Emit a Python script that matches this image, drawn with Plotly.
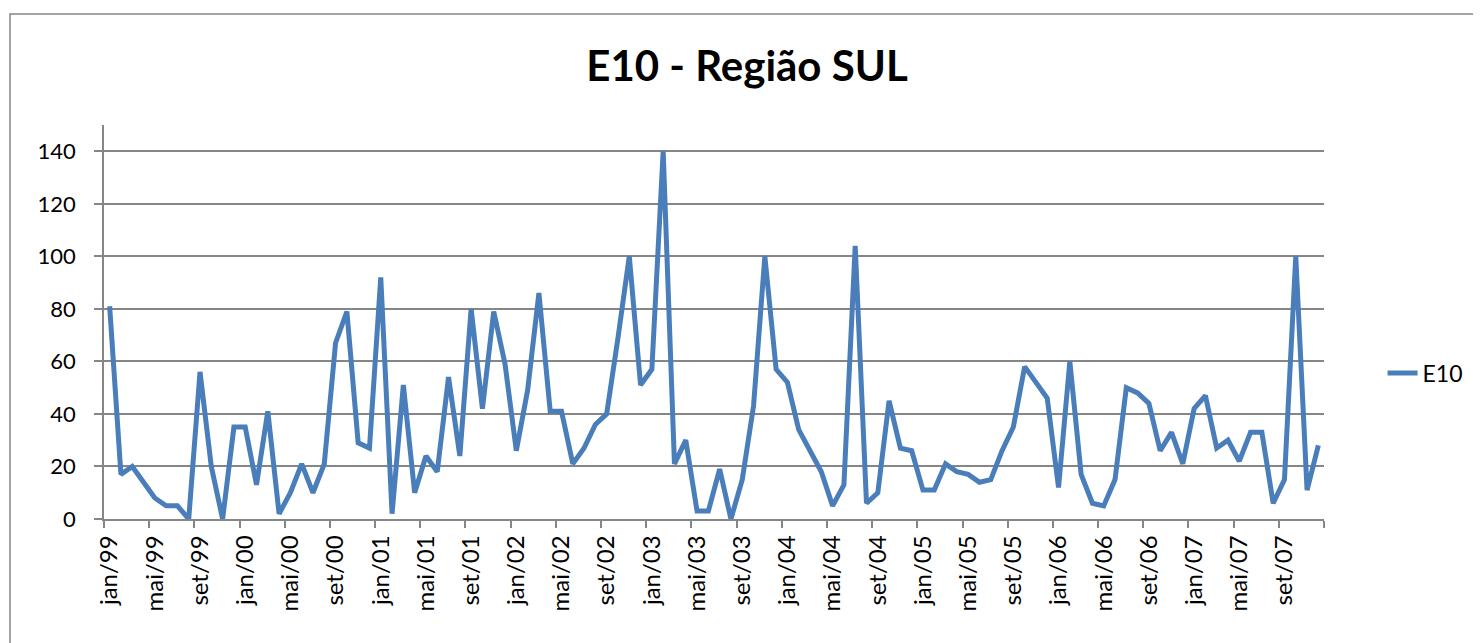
import plotly.graph_objects as go

# ---- data ----
month_names = ["jan", "fev", "mar", "abr", "mai", "jun", "jul", "ago", "set", "out", "nov", "dez"]
years = ["99", "00", "01", "02", "03", "04", "05", "06", "07"]
categories = [f"{m}/{y}" for y in years for m in month_names]

e10 = [81, 17, 20, 14, 8, 5, 5, 0, 56, 20, 0, 35,
       35, 13, 41, 2, 10, 21, 10, 21, 67, 79, 29, 27,
       92, 2, 51, 10, 24, 18, 54, 24, 80, 42, 79, 59,
       26, 49, 86, 41, 41, 21, 27, 36, 40, 69, 100, 51,
       57, 140, 21, 30, 3, 3, 19, 0, 15, 43, 100, 57,
       52, 34, 26, 18, 5, 13, 104, 6, 10, 45, 27, 26,
       11, 11, 21, 18, 17, 14, 15, 26, 35, 58, 52, 46,
       12, 60, 17, 6, 5, 15, 50, 48, 44, 26, 33, 21,
       42, 47, 27, 30, 22, 33, 33, 6, 15, 100, 11, 28]

tick_labels = ["jan/99", "mai/99", "set/99", "jan/00", "mai/00", "set/00",
               "jan/01", "mai/01", "set/01", "jan/02", "mai/02", "set/02",
               "jan/03", "mai/03", "set/03", "jan/04", "mai/04", "set/04",
               "jan/05", "mai/05", "set/05", "jan/06", "mai/06", "set/06",
               "jan/07", "mai/07", "set/07"]

series_name = "E10"
title_text = "E10 - Região SUL"

# ---- figure ----
n = len(categories)
xs = list(range(n))
tick_positions = [categories.index(t) for t in tick_labels]
boundaries = [i - 0.5 for i in range(0, n + 1, 4)]

AXIS = "#868686"
LINE = "#4a7ebb"
FONT = "Lato"

W, H = 1473, 635          # page body has an 8px margin
L, R, T, B = 96, 157, 117, 124
PW, PH = W - L - R, H - T - B

fig = go.Figure()
fig.add_trace(go.Scatter(
    x=xs, y=e10, mode="lines", name=series_name,
    text=categories, hovertemplate="%{text}: %{y}<extra></extra>",
    line=dict(color=LINE, width=5),
))

fig.update_layout(
    width=W, height=H,
    paper_bgcolor="white", plot_bgcolor="white",
    margin=dict(l=L, r=R, t=T, b=B),
    font=dict(family=FONT, color="black", size=22),
    title=dict(text=f"<b>{title_text}</b>", x=739 / W, xanchor="center",
               y=1 - 58 / H, yanchor="middle",
               font=dict(family=FONT, size=42, color="black")),
    showlegend=True,
    legend=dict(x=1.048, y=(511 - 365) / PH, xanchor="left", yanchor="middle",
                font=dict(family=FONT, size=23), bgcolor="rgba(0,0,0,0)"),
)

fig.update_xaxes(
    range=[-0.5, n - 0.5],
    tickmode="array", tickvals=tick_positions, ticktext=tick_labels,
    tickangle=-90, ticks="", ticklabelstandoff=5,
    showline=True, linecolor=AXIS, linewidth=1.5,
    showgrid=False, zeroline=False,
    minor=dict(tickmode="array", tickvals=boundaries, ticks="outside",
               ticklen=7, tickcolor=AXIS, tickwidth=1.5, showgrid=False),
    tickfont=dict(family=FONT, size=24),
)
fig.update_yaxes(
    range=[0, 150], tickmode="linear", tick0=0, dtick=20,
    ticks="outside", ticklen=8, tickcolor=AXIS, tickwidth=1.5,
    ticklabelstandoff=14,
    showline=True, linecolor=AXIS, linewidth=1.5,
    showgrid=True, gridcolor=AXIS, gridwidth=1.5, zeroline=False,
    tickfont=dict(family=FONT, size=22),
)

# chart-area border (only left and top visible in the frame)
fig.add_shape(type="rect", xref="paper", yref="paper",
              x0=(2 - L) / PW, x1=(1520 - L) / PW,
              y0=-(700 - (T + PH)) / PH, y1=(T + PH - 6) / PH,
              line=dict(color=AXIS, width=1.5), fillcolor="rgba(0,0,0,0)",
              layer="below")

fig.write_html("out.html")
